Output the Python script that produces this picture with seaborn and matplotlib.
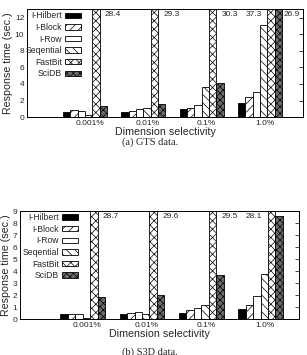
import numpy as np
import pandas as pd
import matplotlib
matplotlib.use('Agg')
import matplotlib.pyplot as plt
import seaborn as sns

sns.set_style('white')
plt.rcParams['font.family'] = ['Liberation Sans', 'DejaVu Sans']
plt.rcParams['hatch.linewidth'] = 0.5

selectivity = ['0.001%', '0.01%', '0.1%', '1.0%']
methods = ['I-Hilbert', 'I-Block', 'I-Row', 'Seqential', 'FastBit', 'SciDB']

# (a) GTS data
gts_hilbert = [0.6, 0.62, 1.0, 1.65]
gts_block = [0.88, 0.8, 1.1, 2.4]
gts_row = [0.72, 1.0, 1.5, 3.05]
gts_seq = [0.3, 1.05, 3.6, 11.15]
gts_fastbit = [28.4, 29.3, 30.3, 37.3]
gts_scidb = [1.3, 1.55, 4.1, 26.9]

# (b) S3D data
s3d_hilbert = [0.42, 0.42, 0.5, 0.82]
s3d_block = [0.42, 0.5, 0.75, 1.22]
s3d_row = [0.48, 0.62, 0.9, 1.92]
s3d_seq = [0.1, 0.45, 1.15, 3.75]
s3d_fastbit = [28.7, 29.6, 29.5, 28.1]
s3d_scidb = [1.88, 2.02, 3.7, 8.6]

palette = {'I-Hilbert': 'black', 'I-Block': 'white', 'I-Row': 'white',
           'Seqential': 'white', 'FastBit': 'white', 'SciDB': '#6a6a6a'}
hatches = ['', '////', '', '\\\\\\\\', 'xxxx', 'xxxxx']


def long_df(series):
    rows = []
    for m, vals in zip(methods, series):
        for s, v in zip(selectivity, vals):
            rows.append({'sel': s, 'method': m, 'time': v})
    return pd.DataFrame(rows)


def draw(ax, series, ymax, xlim, anchor_x):
    df = long_df(series)
    sns.barplot(data=df, x='sel', y='time', hue='method', order=selectivity,
                hue_order=methods, palette=palette, width=0.755, saturation=1,
                edgecolor='black', linewidth=0.6, errorbar=None, legend=False,
                ax=ax)
    for cont, h in zip(ax.containers, hatches):
        for p in cont:
            p.set_hatch(h)
    ax.set_ylim(0, ymax)
    ax.set_xlim(*xlim)
    ax.set_yticks(range(0, int(ymax) + 1, 2 if ymax > 10 else 1))
    ax.set_xticks([i + 0.08 for i in range(len(selectivity))])
    ax.set_xticklabels(selectivity)
    ax.tick_params(axis='y', direction='in', length=3, width=0.6,
                   right=True, labelsize=6, pad=2)
    ax.tick_params(axis='x', length=0, labelsize=6, pad=2)
    for sp in ax.spines.values():
        sp.set_linewidth(0.7)
        sp.set_color('black')
    ax.set_xlabel('Dimension selectivity', fontsize=7.7, labelpad=0)
    ax.set_ylabel('Response time (sec.)', fontsize=7.7, labelpad=1)
    ax.legend(ax.containers, methods, loc='upper right',
              bbox_to_anchor=(anchor_x, 0.98), frameon=False,
              markerfirst=False, fontsize=6.2, handlelength=1.9,
              handleheight=0.6, handletextpad=0.35, labelspacing=0.3,
              borderpad=0, borderaxespad=0)


fig = plt.figure(figsize=(3.07, 3.55), dpi=100)
ax1 = fig.add_axes([0.088, 0.670, 0.899, 0.304])
ax2 = fig.add_axes([0.065, 0.1006, 0.909, 0.305])

draw(ax1, [gts_hilbert, gts_block, gts_row, gts_seq, gts_fastbit, gts_scidb],
     13, (-0.995, 3.74), 0.196)
draw(ax2, [s3d_hilbert, s3d_block, s3d_row, s3d_seq, s3d_fastbit, s3d_scidb],
     9, (-1.06, 3.65), 0.208)

# values of clipped bars
for i in range(3):
    ax1.text(i + 0.34, 12.4, f'{gts_fastbit[i]}', fontsize=6, va='center')
    ax2.text(i + 0.34, 8.55, f'{s3d_fastbit[i]}', fontsize=6, va='center')
ax1.text(3.03, 12.4, f'{gts_fastbit[3]}', fontsize=6, va='center', ha='right')
ax1.text(3.40, 12.4, f'{gts_scidb[3]}', fontsize=6, va='center')
ax2.text(3.02, 8.55, f'{s3d_fastbit[3]}', fontsize=6, va='center', ha='right')

fig.text(0.488, 0.600, '(a) GTS data.', ha='center', va='center',
         fontsize=7.5, family='Liberation Serif')
fig.text(0.488, 0.008, '(b) S3D data.', ha='center', va='center',
         fontsize=7.5, family='Liberation Serif')

plt.savefig('out.png', dpi=100)
